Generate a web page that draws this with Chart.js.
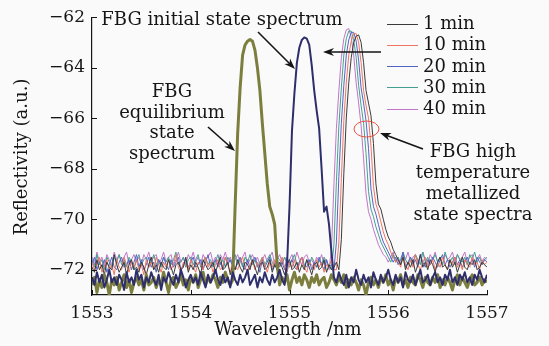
<!DOCTYPE html>
<html>
<head>
<meta charset="utf-8">
<script src="https://cdn.jsdelivr.net/npm/chart.js@4.4.0/dist/chart.umd.min.js"></script>
<style>
  html, body { margin: 0; background: #fafafa; }
  canvas { display: block; }
</style>
</head>
<body>
<canvas id="chart" width="549" height="346"></canvas>
<script>
// Wavelength grid of the OSA trace (nm), 0.025 nm step
const wavelength = Array.from({ length: 161 }, (_, i) => 1553 + i * 0.025);

const xTicks = [1553, 1554, 1555, 1556, 1557];
const yTicks = [-72, -70, -68, -66, -64, -62];
const minuteLabels = ['1 min', '10 min', '20 min', '30 min', '40 min'];

// ── HIGH TEMPERATURE METALLIZED STATE SPECTRA ─────────────
const spec1min = [
  -71.9,-72.1,-71.6,-72.0,-71.8,-72.2,-71.7,-71.9,-72.0,-71.4,
  -71.8,-72.1,-71.9,-71.7,-72.2,-71.8,-71.6,-72.0,-71.9,-72.1,
  -71.7,-71.9,-72.2,-71.8,-71.5,-72.0,-71.8,-72.1,-71.7,-71.9,
  -72.0,-71.6,-71.9,-72.2,-71.8,-71.7,-72.0,-71.9,-71.5,-72.1,
  -71.8,-72.0,-71.7,-71.9,-72.2,-71.6,-71.8,-72.0,-71.9,-71.7,
  -72.1,-71.8,-71.5,-72.0,-71.9,-71.7,-72.2,-71.8,-72.0,-71.6,
  -71.9,-72.1,-71.7,-71.8,-72.0,-71.6,-71.9,-72.2,-71.8,-71.7,
  -72.0,-71.9,-71.6,-72.1,-71.8,-72.0,-71.7,-71.9,-72.2,-71.8,
  -71.6,-72.0,-71.9,-71.7,-72.1,-71.8,-72.0,-71.6,-71.9,-72.2,
  -71.8,-71.7,-72.0,-71.9,-71.6,-72.1,-71.8,-72.0,-71.9,-71.7,
  -72.0,-70.8,-68.2,-66.0,-64.6,-63.6,-63.0,-62.75,-62.7,-63.0,
  -63.8,-64.9,-65.4,-65.9,-67.0,-68.6,-69.4,-69.6,-70.0,-70.4,
  -70.7,-70.9,-71.2,-71.4,-71.6,-71.8,-71.5,-72.0,-71.7,-71.9,
  -71.6,-72.1,-71.8,-71.4,-71.9,-71.7,-72.0,-71.6,-71.8,-72.1,
  -71.7,-71.5,-71.9,-71.8,-72.0,-71.6,-71.9,-71.7,-72.1,-71.8,
  -71.5,-71.9,-72.0,-71.7,-71.8,-71.6,-72.0,-71.9,-71.7,-71.8,
  -71.9
];
const spec10min = [
  -71.7,-72.0,-71.8,-71.5,-72.1,-71.9,-71.6,-72.0,-71.8,-72.2,
  -71.6,-71.9,-72.0,-71.5,-71.8,-72.1,-71.7,-71.9,-71.6,-72.0,
  -71.8,-72.2,-71.6,-71.9,-71.7,-72.0,-71.5,-71.8,-72.1,-71.7,
  -71.9,-71.6,-72.0,-71.8,-71.4,-71.9,-72.1,-71.7,-71.8,-72.0,
  -71.6,-71.9,-72.1,-71.7,-71.8,-72.0,-71.5,-71.9,-71.7,-72.1,
  -71.8,-71.6,-72.0,-71.9,-71.5,-71.8,-72.1,-71.7,-71.9,-72.0,
  -71.7,-71.5,-71.9,-72.1,-71.8,-71.6,-72.0,-71.7,-71.9,-71.5,
  -71.8,-72.1,-71.7,-71.9,-71.6,-72.0,-71.8,-71.5,-71.9,-72.1,
  -71.7,-71.9,-71.6,-72.0,-71.8,-71.5,-71.9,-72.1,-71.7,-71.8,
  -72.0,-71.6,-71.9,-71.7,-72.1,-71.8,-71.9,-71.6,-72.0,
  -72.0,-70.9,-68.4,-66.1,-64.6,-63.5,-62.95,-62.65,-62.65,-63.0,
  -63.8,-64.9,-65.5,-66.0,-67.1,-68.7,-69.4,-69.7,-70.1,-70.5,
  -70.8,-71.0,-71.3,-71.5,-71.7,
  -71.6,-71.9,-71.5,-71.8,-72.0,-71.6,-71.9,-71.4,-71.8,-72.0,
  -71.7,-71.5,-71.9,-71.8,-71.6,-72.0,-71.7,-71.9,-71.5,-71.8,
  -72.0,-71.6,-71.8,-71.5,-71.9,-71.7,-72.0,-71.6,-71.8,-71.9,
  -71.5,-71.8,-71.7,-72.0,-71.6,-71.8,-71.7
];
const spec20min = [
  -71.8,-71.5,-72.0,-71.7,-71.9,-71.6,-72.1,-71.8,-71.5,-71.9,
  -72.0,-71.7,-71.5,-71.9,-71.8,-71.6,-72.0,-71.7,-71.4,-71.9,
  -71.6,-72.0,-71.8,-71.5,-71.9,-71.7,-72.1,-71.6,-71.8,-71.5,
  -71.8,-72.0,-71.6,-71.9,-71.7,-71.5,-72.0,-71.8,-71.6,-71.9,
  -71.7,-71.5,-71.9,-71.8,-71.6,-72.0,-71.7,-71.4,-71.9,-71.8,
  -71.6,-71.9,-71.7,-72.0,-71.5,-71.8,-71.6,-71.9,-72.0,-71.7,
  -71.5,-71.8,-72.0,-71.6,-71.9,-71.7,-71.5,-71.8,-72.1,-71.6,
  -71.9,-71.7,-71.5,-72.0,-71.8,-71.6,-71.9,-71.7,-72.0,-71.5,
  -71.8,-71.6,-71.9,-72.0,-71.7,-71.5,-71.8,-71.9,-71.6,-72.0,
  -71.7,-71.9,-71.5,-71.8,-72.0,-71.6,-71.9,-71.8,
  -72.0,-70.9,-68.3,-66.2,-64.7,-63.5,-62.9,-62.6,-62.6,-62.95,
  -63.7,-64.8,-65.4,-66.1,-67.2,-68.8,-69.5,-69.8,-70.2,-70.6,
  -70.9,-71.1,-71.3,-71.5,-71.7,
  -71.5,-71.8,-71.6,-71.3,-71.9,-71.7,-71.5,-71.8,-71.6,-71.9,
  -71.4,-71.7,-71.9,-71.6,-71.8,-71.5,-71.7,-71.9,-71.6,-71.4,
  -71.8,-71.6,-71.9,-71.7,-71.5,-71.8,-71.6,-71.9,-71.7,-71.5,
  -71.8,-71.6,-71.9,-71.5,-71.7,-71.8,-71.6,-71.7
];
const spec30min = [
  -71.6,-71.9,-71.4,-71.8,-71.6,-72.0,-71.5,-71.7,-71.9,-71.5,
  -71.7,-71.4,-71.8,-71.6,-71.9,-71.5,-71.7,-72.0,-71.6,-71.4,
  -71.8,-71.6,-71.5,-71.9,-71.7,-71.4,-71.8,-71.6,-71.9,-71.5,
  -71.7,-71.5,-71.8,-71.6,-71.3,-71.8,-71.7,-71.5,-71.9,-71.6,
  -71.5,-71.8,-71.6,-71.4,-71.9,-71.7,-71.5,-71.8,-71.6,-71.9,
  -71.7,-71.4,-71.8,-71.6,-71.9,-71.5,-71.7,-71.6,-71.4,-71.8,
  -71.6,-71.9,-71.5,-71.7,-71.4,-71.8,-71.6,-71.9,-71.7,-71.5,
  -71.8,-71.6,-71.4,-71.7,-71.9,-71.5,-71.6,-71.8,-71.5,-71.7,
  -71.9,-71.6,-71.4,-71.8,-71.7,-71.5,-71.9,-71.6,-71.8,-71.5,
  -71.7,-71.9,-71.6,-71.8,-71.5,-71.7,-71.9,
  -72.0,-71.0,-68.5,-66.3,-64.8,-63.5,-62.85,-62.55,-62.55,-62.9,
  -63.6,-64.7,-65.5,-66.2,-67.4,-68.9,-69.6,-69.9,-70.3,-70.6,
  -70.9,-71.1,-71.3,-71.5,-71.7,
  -71.4,-71.7,-71.5,-71.8,-71.3,-71.6,-71.8,-71.5,-71.7,-71.4,
  -71.6,-71.8,-71.3,-71.7,-71.5,-71.8,-71.6,-71.4,-71.7,-71.5,
  -71.8,-71.3,-71.6,-71.7,-71.5,-71.8,-71.4,-71.6,-71.7,-71.5,
  -71.8,-71.4,-71.6,-71.3,-71.7,-71.5,-71.8,-71.6,-71.5
];
const spec40min = [
  -71.5,-71.8,-71.3,-71.7,-71.5,-71.9,-71.4,-71.6,-71.8,-71.3,
  -71.6,-71.4,-71.7,-71.5,-71.3,-71.8,-71.6,-71.4,-71.7,-71.5,
  -71.8,-71.4,-71.6,-71.3,-71.7,-71.5,-71.4,-71.8,-71.6,-71.3,
  -71.7,-71.5,-71.4,-71.8,-71.6,-71.3,-71.7,-71.5,-71.8,-71.4,
  -71.6,-71.3,-71.7,-71.5,-71.8,-71.4,-71.6,-71.5,-71.3,-71.7,
  -71.5,-71.8,-71.4,-71.6,-71.3,-71.7,-71.5,-71.8,-71.6,-71.4,
  -71.7,-71.5,-71.3,-71.8,-71.6,-71.4,-71.7,-71.5,-71.8,-71.6,
  -71.4,-71.7,-71.5,-71.3,-71.8,-71.6,-71.4,-71.7,-71.5,-71.8,
  -71.6,-71.4,-71.7,-71.3,-71.6,-71.8,-71.5,-71.4,-71.7,-71.6,
  -71.8,-71.5,-71.7,-71.4,-71.8,-71.6,
  -72.0,-71.2,-68.6,-66.4,-64.9,-63.6,-62.85,-62.5,-62.45,-62.8,
  -63.5,-64.6,-65.4,-66.3,-67.6,-69.0,-69.7,-70.0,-70.4,-70.7,
  -71.0,-71.2,-71.4,-71.5,-71.7,
  -71.5,-71.3,-71.7,-71.5,-71.8,-71.4,-71.6,-71.3,-71.7,-71.5,
  -71.4,-71.7,-71.5,-71.3,-71.6,-71.8,-71.4,-71.6,-71.3,-71.7,
  -71.5,-71.8,-71.4,-71.6,-71.5,-71.3,-71.7,-71.4,-71.6,-71.5,
  -71.3,-71.7,-71.5,-71.4,-71.8,-71.6,-71.4,-71.7,-71.5,-71.6
];

// ── INITIAL AND EQUILIBRIUM STATE ──────────────────────────
const initialSpec = [
  -72.3,-72.6,-72.1,-72.5,-72.2,-72.7,-72.4,-72.0,-72.5,-72.3,
  -72.6,-72.2,-72.4,-72.8,-72.1,-72.5,-72.3,-72.6,-72.0,-72.4,
  -72.2,-72.7,-72.3,-72.5,-72.1,-72.4,-72.6,-72.2,-72.8,-72.3,
  -72.5,-72.1,-72.4,-72.6,-72.2,-72.5,-72.0,-72.3,-72.7,-72.4,
  -72.2,-72.5,-72.3,-72.6,-72.1,-72.4,-72.7,-72.2,-72.5,-72.3,
  -72.0,-72.4,-72.6,-72.2,-72.5,-72.3,-72.7,-72.1,-72.4,-72.6,
  -72.2,-72.5,-72.3,-72.0,-72.6,-72.4,-72.2,-72.7,-72.3,-72.5,
  -72.1,-72.4,-72.6,-72.2,-72.5,-72.3,-72.0,-72.4,-72.6,
  -71.8,-69.5,-66.5,-65.0,-63.8,-63.2,-62.9,-62.8,-62.85,-63.1,
  -63.9,-64.9,-65.7,-66.4,-68.0,-69.7,-69.5,-70.2,-71.3,-72.3,
  -72.5,-72.1,-72.4,-72.6,-72.2,-72.7,-72.3,-72.5,-72.0,-72.4,
  -72.6,-72.2,-72.5,-72.3,-72.7,-72.1,-72.4,-72.6,-72.2,-72.5,
  -72.3,-72.0,-72.4,-72.6,-72.2,-72.5,-72.3,-72.7,-72.1,-72.4,
  -72.5,-72.2,-72.6,-72.3,-72.0,-72.5,-72.4,-72.2,-72.6,-72.3,
  -72.1,-72.5,-72.3,-72.6,-72.2,-72.4,-72.0,-72.5,-72.3,-72.6,
  -72.2,-72.4,-72.1,-72.5,-72.3,-72.6,-72.2,-72.4,-72.0,-72.3,
  -72.5,-72.2
];
const equilibriumSpec = [
  -72.6,-72.3,-72.9,-72.4,-72.7,-72.2,-72.5,-73.0,-72.4,-72.6,
  -72.3,-72.8,-72.5,-72.2,-72.7,-72.4,-72.9,-72.5,-72.3,-72.6,
  -72.4,-72.8,-72.2,-72.6,-72.5,-72.3,-72.7,-72.4,-72.6,-72.1,
  -72.5,-72.9,-72.4,-72.3,-72.7,-72.5,-72.2,-72.6,-72.4,-72.8,
  -72.3,-72.5,-72.2,-72.7,-72.4,-72.1,-72.6,-72.3,-72.5,-72.2,
  -72.4,-72.7,-72.3,-72.5,-72.1,-72.4,-72.6,
  -72.4,-69.4,-66.6,-64.8,-63.5,-63.1,-62.95,-62.88,-62.95,-63.3,
  -64.0,-64.9,-66.2,-67.4,-68.6,-69.5,-69.8,-70.2,-71.8,-72.6,
  -72.3,-72.5,-72.2,-72.8,-72.4,-72.1,-72.5,-72.3,-72.6,-72.2,
  -72.4,-72.7,-72.3,-72.5,-72.2,-72.6,-72.4,-72.3,-72.7,-72.5,
  -72.2,-72.4,-72.6,-72.3,-72.5,-72.2,-72.7,-72.4,-72.6,-72.3,
  -72.5,-72.8,-72.4,-72.6,-73.0,-72.5,-72.3,-72.6,-72.4,-72.7,
  -72.3,-72.5,-72.2,-72.6,-72.4,-72.8,-72.3,-72.5,-72.2,-72.6,
  -72.4,-72.7,-72.3,-72.5,-72.6,-72.2,-72.4,-72.7,-72.3,-72.5,
  -72.6,-72.3,-72.5,-72.2,-72.7,-72.4,-72.6,-72.3,-72.5,-72.8,
  -72.4,-72.2,-72.6,-72.3,-72.5,-72.7,-72.4,-72.2,-72.6,-72.5,
  -72.3,-72.6,-72.4,-72.5
];

const minuteSeries = [spec1min, spec10min, spec20min, spec30min, spec40min];
const minuteColours = ['#3a3a3a', '#f07462', '#5464c4', '#43a090', '#c274c8'];

[...minuteSeries, initialSpec, equilibriumSpec].forEach((s, k) => {
  if (s.length !== wavelength.length) throw new Error(`series ${k} has ${s.length} points`);
});

const FONT = '"DejaVu Serif", serif';
const INK  = '#151515';

// first dataset is drawn on top
const datasets = [
  { label: 'initial', data: initialSpec, borderColor: '#2e2e6c', borderWidth: 2 },
  { label: 'equilibrium', data: equilibriumSpec, borderColor: '#7c7e3e', borderWidth: 3 },
  ...minuteSeries.map((s, k) => ({
    label: minuteLabels[k], data: s, borderColor: minuteColours[k], borderWidth: 1,
  })),
];

function drawArrow(ctx, x0, y0, x1, y1) {
  const a = Math.atan2(y1 - y0, x1 - x0);
  const len = 11, half = 4;
  ctx.save();
  ctx.strokeStyle = INK; ctx.fillStyle = INK; ctx.lineWidth = 1.6;
  ctx.beginPath();
  ctx.moveTo(x0, y0);
  ctx.lineTo(x1 - Math.cos(a) * 6, y1 - Math.sin(a) * 6);
  ctx.stroke();
  ctx.translate(x1, y1); ctx.rotate(a);
  ctx.beginPath();
  ctx.moveTo(0, 0);
  ctx.lineTo(-len, -half);
  ctx.lineTo(-len * 0.7, 0);
  ctx.lineTo(-len, half);
  ctx.closePath();
  ctx.fill();
  ctx.restore();
}

function text(ctx, lines, x, y0, step) {
  lines.forEach((t, i) => ctx.fillText(t, x, y0 + i * step));
}

const decorations = {
  id: 'decorations',
  beforeDraw(chart) {
    const ctx = chart.ctx;
    ctx.save();
    ctx.fillStyle = '#fafafa';
    ctx.fillRect(0, 0, chart.width, chart.height);
    ctx.restore();
  },
  afterDraw(chart) {
    const { ctx, scales: { x, y } } = chart;
    ctx.save();

    // inward tick marks
    ctx.strokeStyle = INK; ctx.lineWidth = 1;
    ctx.beginPath();
    xTicks.forEach(v => {
      const px = Math.round(x.getPixelForValue(v)) + 0.5;
      ctx.moveTo(px, y.bottom); ctx.lineTo(px, y.bottom - 5);
    });
    yTicks.forEach(v => {
      const py = Math.round(y.getPixelForValue(v)) + 0.5;
      ctx.moveTo(x.left, py); ctx.lineTo(x.left + 5, py);
    });
    ctx.stroke();

    // axis titles
    ctx.fillStyle = INK;
    ctx.font = `18px ${FONT}`;
    ctx.textAlign = 'center'; ctx.textBaseline = 'middle';
    ctx.fillText('Wavelength /nm', 288, 330);
    ctx.save();
    ctx.translate(22, 157); ctx.rotate(-Math.PI / 2);
    ctx.fillText('Reflectivity (a.u.)', 0, 0);
    ctx.restore();

    // annotations
    ctx.textBaseline = 'alphabetic';
    ctx.fillText('FBG initial state spectrum', 222, 25);
    text(ctx, ['FBG', 'equilibrium', 'state', 'spectrum'], 172, 97, 20.5);
    text(ctx, ['FBG high', 'temperature', 'metallized', 'state spectra'], 473, 157, 21);

    drawArrow(ctx, 258, 32, 295, 69);
    drawArrow(ctx, 208, 127, 235, 151);
    drawArrow(ctx, 381, 52, 323, 52);
    drawArrow(ctx, 423, 149, 380, 133);

    ctx.strokeStyle = '#e8553f'; ctx.lineWidth = 1;
    ctx.beginPath();
    ctx.ellipse(366.5, 129, 12.5, 8, 0, 0, Math.PI * 2);
    ctx.stroke();

    // legend
    ctx.textAlign = 'left'; ctx.textBaseline = 'middle';
    minuteLabels.forEach((lab, k) => {
      const ly = 23.5 + k * 21.25;
      ctx.strokeStyle = minuteColours[k]; ctx.lineWidth = 1;
      ctx.beginPath();
      ctx.moveTo(387, Math.round(ly) + 0.5); ctx.lineTo(418, Math.round(ly) + 0.5);
      ctx.stroke();
      ctx.fillStyle = INK;
      ctx.fillText(lab, 423, ly + 1);
    });

    ctx.restore();
  },
};

new Chart(document.getElementById('chart'), {
  type: 'line',
  data: { labels: wavelength, datasets },
  options: {
    responsive: false,
    animation: false,
    devicePixelRatio: 1,
    layout: { padding: { top: 17, right: 62, left: 0, bottom: 0 } },
    elements: {
      point: { radius: 0 },
      line: { tension: 0, borderJoinStyle: 'round' },
    },
    plugins: { legend: { display: false }, tooltip: { enabled: false } },
    scales: {
      x: {
        type: 'linear', min: 1553, max: 1557,
        afterBuildTicks: s => { s.ticks = xTicks.map(v => ({ value: v })); },
        afterFit: s => { s.height = 51; },
        grid: { display: false, drawTicks: false },
        border: { display: true, color: INK, width: 1.2 },
        ticks: {
          color: INK, font: { family: FONT, size: 17 }, padding: 8, maxRotation: 0,
          callback: v => String(v),
        },
      },
      y: {
        min: -73, max: -62,
        afterBuildTicks: s => { s.ticks = yTicks.map(v => ({ value: v })); },
        afterFit: s => { s.width = 92; },
        grid: { display: false, drawTicks: false },
        border: { display: true, color: INK, width: 1.2 },
        ticks: {
          color: INK, font: { family: FONT, size: 17 }, padding: 7,
          callback: v => (v < 0 ? '\u2212' : '') + Math.abs(v),
        },
      },
    },
  },
  plugins: [decorations],
});
</script>
</body>
</html>
